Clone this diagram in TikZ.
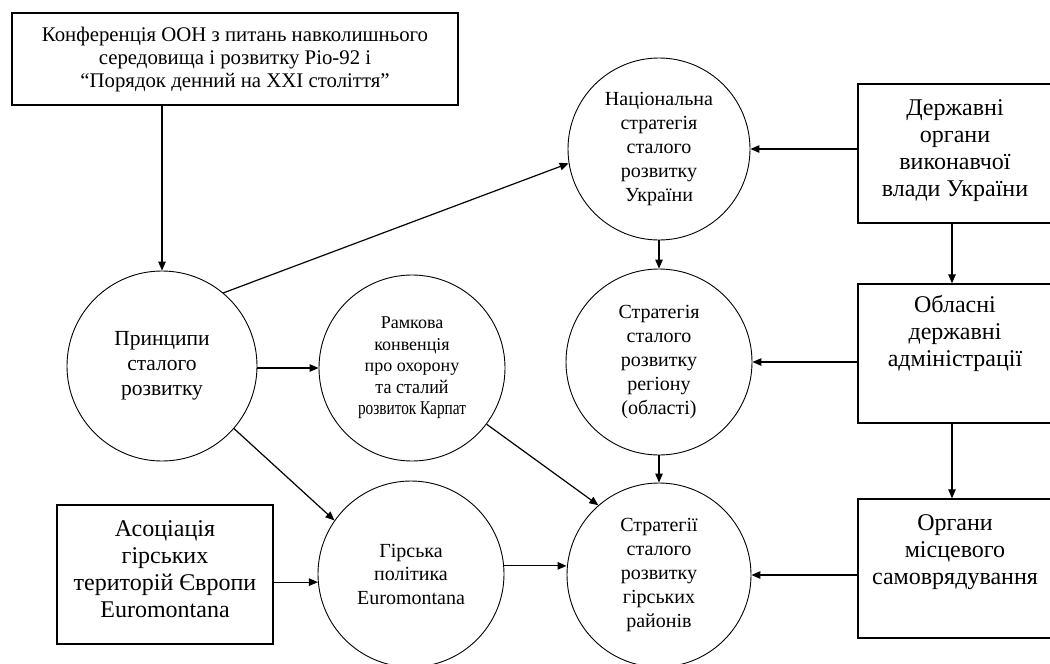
\documentclass[tikz,border=0pt]{standalone}
\usepackage{fontspec}
\setmainfont{Liberation Serif}
\usetikzlibrary{arrows.meta}
\begin{document}
\begin{tikzpicture}[x=1pt,y=-1pt,
  circ/.style={draw, circle, line width=0.9pt, inner sep=0pt, align=center, minimum size=#1},
  box/.style={draw, rectangle, line width=1.4pt, inner sep=0pt},
  lbl/.style={align=center, inner sep=0pt},
  ctext/.style={font=\fontsize{20}{24}\selectfont},
  btext/.style={font=\fontsize{24}{27}\selectfont},
  arr/.style={-{Triangle[length=9pt,width=7.5pt]}, line width=1.2pt}]
\useasboundingbox (0,0) rectangle (1050,664);
\fill[white] (0,0) rectangle (1050,664);

% top box
\node[box, minimum width=446pt, minimum height=92pt, align=center,
      font=\fontsize{20.8}{23}\selectfont] (T) at (235,59)
  {Конференція ООН з питань навколишнього\\середовища і розвитку Ріо-92 і\\“Порядок денний на XXI століття”};

% circles
\node[circ=190pt, font=\fontsize{21.5}{25}\selectfont] (P) at (162,366) {Принципи\\сталого\\розвитку};
\node[circ=186pt, font=\fontsize{18}{21.5}\selectfont] (R) at (412,368)
  {Рамкова\\конвенція\\про охорону\\\scalebox{1}[1.08]{та сталий}\\\scalebox{0.85}[1.08]{розвиток Карпат}};
\node[circ=186pt, font=\fontsize{20}{23.5}\selectfont] (G) at (411,574) {Гірська\\політика\\Euromontana};
\node[circ=182pt, ctext] (N) at (659,149) {Національна\\стратегія\\сталого\\розвитку\\України};
\node[circ=186pt, ctext] (S) at (659,362) {Стратегія\\сталого\\розвитку\\регіону\\(області)};
\node[circ=184pt, ctext] (M) at (659,575) {Стратегії\\сталого\\розвитку\\гірських\\районів};

% left bottom box
\node[box, minimum width=216pt, minimum height=139pt] (A) at (165,574.5) {};
\node[lbl, btext] (At) at (165,569) {Асоціація\\гірських\\територій Європи\\Euromontana};

% right boxes
\node[box, minimum width=202pt, minimum height=139pt] (D) at (959,153.5) {};
\node[lbl, btext] (Dt) at (955,151) {Державні\\органи\\виконавчої\\влади України};
\node[box, minimum width=202pt, minimum height=139pt] (O) at (959,353.5) {};
\node[lbl, btext, anchor=north] (Ot) at (955,295) {Обласні\\державні\\адміністрації};
\node[box, minimum width=202pt, minimum height=139pt] (L) at (959,568.5) {};
\node[lbl, btext, anchor=north] (Lt) at (955,514) {Органи\\місцевого\\самоврядування};

% connectors
\draw[arr] (T.south -| P.north) -- (P.north);
\draw[arr] (P.50) -- (N.189);
\draw[arr] (P.east |- R.west) -- (R.west);
\draw[arr] (P.-41) -- (G.145);
\draw[arr] (R.-37) -- (M.131);
\draw[arr] (G.5) -- (G.5 -| M.west);
\draw[arr] (A.east |- G.185) -- (G.185);
\draw[arr] (N.south) -- (S.north);
\draw[arr] (S.south) -- (M.north);
\draw[arr] (D.west |- N.east) -- (N.east);
\draw[arr] (O.west |- S.east) -- (S.east);
\draw[arr] (L.west |- M.east) -- (M.east);
\draw[arr] ([xshift=-7pt]D.south) -- ([xshift=-7pt]O.north);
\draw[arr] ([xshift=-7pt]O.south) -- ([xshift=-7pt]L.north);
\end{tikzpicture}
\end{document}
